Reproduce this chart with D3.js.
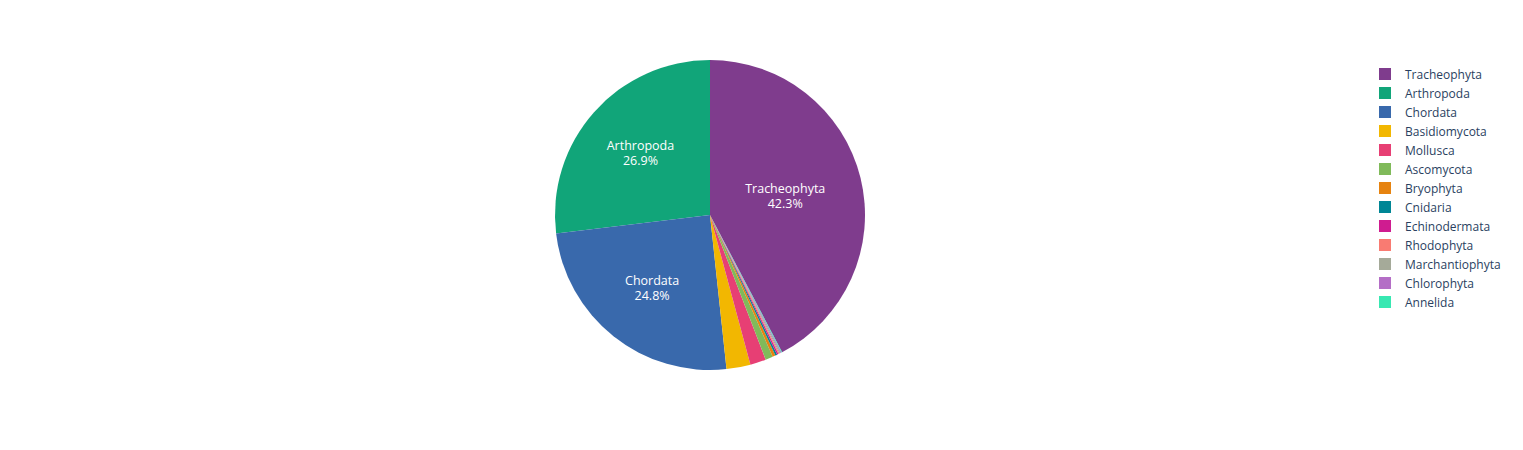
<!DOCTYPE html>
<html>
<head>
<meta charset="utf-8">
<script src="https://cdn.jsdelivr.net/npm/d3@7"></script>
<style>
  body { margin: 0; background: #fff; }
  svg { font-family: "Open Sans", "Noto Sans", sans-serif; }
</style>
</head>
<body>
<div id="chart"></div>
<script>
// phylum names, in legend order (largest first)
var phyla = ["Tracheophyta", "Arthropoda", "Chordata", "Basidiomycota", "Mollusca",
  "Ascomycota", "Bryophyta", "Cnidaria", "Echinodermata", "Rhodophyta",
  "Marchantiophyta", "Chlorophyta", "Annelida"];

// share of records (%)
var shares = [42.3, 26.9, 24.8, 2.5, 1.65, 0.78, 0.3, 0.2, 0.15, 0.12, 0.12, 0.1, 0.08];

var palette = ["#7f3c8d", "#11a579", "#3969ac", "#f2b701", "#e73f74", "#80ba5a",
  "#e68310", "#008695", "#cf1c90", "#f97b72", "#a5aa99", "#b46ec6", "#38e8b2"];

var width = 1523, height = 450;
var cx = 710, cy = 215, radius = 155;

var data = phyla.map(function(p, i) { return { label: p, value: shares[i] }; });
var total = d3.sum(shares);

var color = d3.scaleOrdinal().domain(phyla).range(palette);

var svg = d3.select("#chart").append("svg")
  .attr("width", width)
  .attr("height", height);

// first slice ends at 12 o'clock, the rest run counter-clockwise from there
var start = 2 * Math.PI * shares[0] / total;
var pie = d3.pie()
  .value(function(d) { return d.value; })
  .sort(null)
  .startAngle(start)
  .endAngle(start - 2 * Math.PI);

var arc = d3.arc().innerRadius(0).outerRadius(radius);

var g = svg.append("g")
  .attr("transform", "translate(" + cx + "," + cy + ")");

var arcs = pie(data);

g.selectAll("path")
  .data(arcs)
  .enter().append("path")
  .attr("d", arc)
  .attr("fill", function(d) { return color(d.data.label); });

// only slices big enough to hold text get a label
var labels = g.selectAll(".lbl")
  .data(arcs.filter(function(d) { return d.data.value / total > 0.1; }))
  .enter().append("text")
  .attr("class", "lbl")
  .attr("text-anchor", "middle")
  .attr("fill", "#fff")
  .style("font-size", "12.5px")
  .attr("transform", function(d) {
    var f = d.data.value / total > 0.35 ? 0.5 : 0.6;
    var a = (d.startAngle + d.endAngle) / 2;
    var r = radius * f;
    return "translate(" + (r * Math.sin(a)) + "," + (-r * Math.cos(a)) + ")";
  });

labels.append("tspan")
  .attr("x", 0)
  .attr("y", -3)
  .text(function(d) { return d.data.label; });

labels.append("tspan")
  .attr("x", 0)
  .attr("y", 12)
  .text(function(d) { return (d.data.value / total * 100).toFixed(1) + "%"; });

// legend
var legendStep = 19;
var legend = svg.selectAll(".legend")
  .data(phyla)
  .enter().append("g")
  .attr("class", "legend")
  .attr("transform", function(d, i) {
    return "translate(1379," + (74 + i * legendStep) + ")";
  });

legend.append("rect")
  .attr("x", 0)
  .attr("y", -6)
  .attr("width", 12)
  .attr("height", 12)
  .attr("fill", color);

legend.append("text")
  .attr("x", 26)
  .attr("y", 4.5)
  .attr("fill", "#2a3f5f")
  .style("font-size", "12px")
  .text(function(d) { return d; });
</script>
</body>
</html>
